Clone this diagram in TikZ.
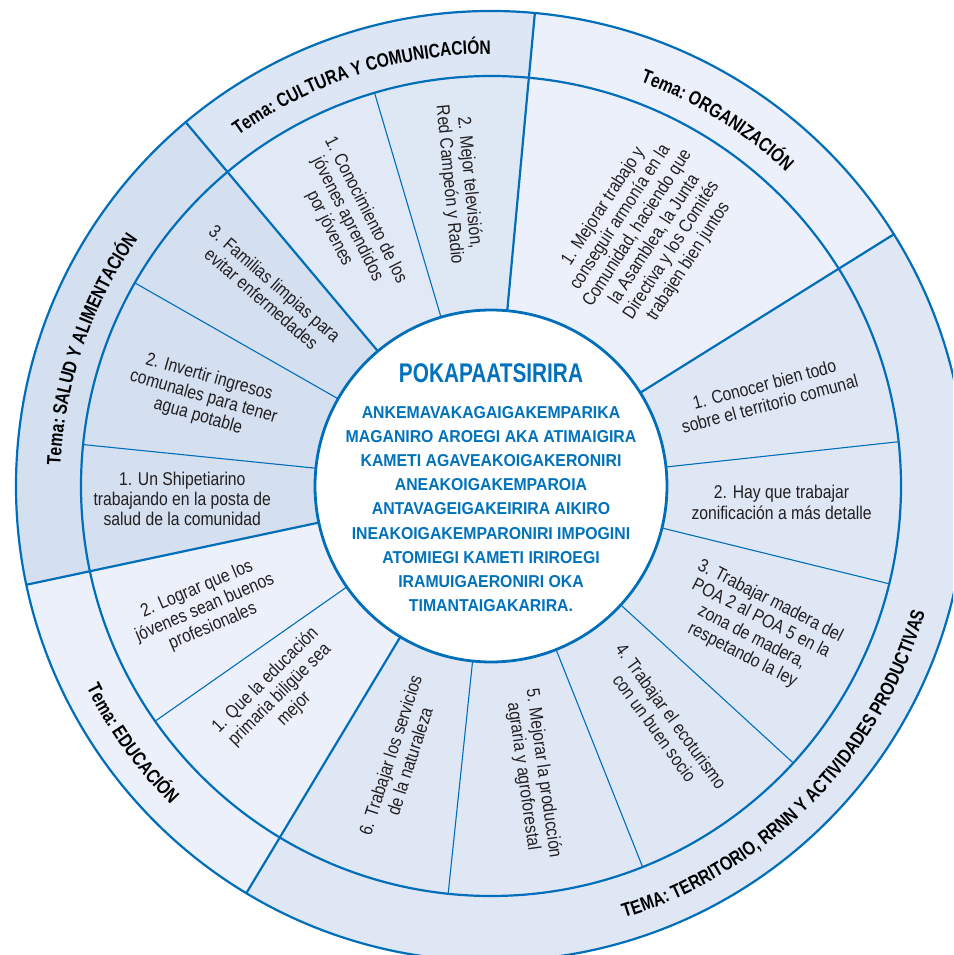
\documentclass[tikz,border=0pt]{standalone}
\usepackage{fontspec}
\setmainfont{Liberation Sans}[FakeStretch=0.92]
\newfontfamily\itemfont{Liberation Sans}[FakeStretch=0.85]
\newfontfamily\titlefont{Liberation Sans}[FakeStretch=0.77]
\newfontfamily\themefont{Liberation Sans}[FakeStretch=0.80]
\usetikzlibrary{decorations.text}
\definecolor{lineblue}{RGB}{0,110,185}
\definecolor{txtblue}{RGB}{0,114,188}
\definecolor{cSalud}{HTML}{D4DFF0}
\definecolor{cCultRing}{HTML}{DDE6F4}
\definecolor{cCultA}{HTML}{E2E9F6}
\definecolor{cCultB}{HTML}{DEE7F4}
\definecolor{cOrg}{HTML}{EBF0FA}
\definecolor{cTerr}{HTML}{DFE7F5}
\definecolor{cEdu}{HTML}{EBF0FA}
\definecolor{ink}{HTML}{231F20}
\newcommand\annsec[5]{%
  \fill[#1] (#2:#4) arc[start angle=#2, end angle=#3, radius=#4] -- (#3:#5) arc[start angle=#3, end angle=#2, radius=#5] -- cycle;}
\tikzset{
  item/.style={font=\itemfont\fontsize{18.5}{20.3}\selectfont, align=center, text=ink, inner sep=0pt},
  themeline/.style={draw=lineblue, line width=2.2pt},
  itemline/.style={draw=lineblue, line width=1.1pt},
  ringline/.style={draw=lineblue, line width=2.2pt},
  themetext/.style={decorate, decoration={text along path, text align=center, text={#1}}}
}
\begin{document}
\begin{tikzpicture}[x=1pt, y=1pt, line join=round]
\useasboundingbox (-491,-469) rectangle (462,486);
\fill[white] (-491,-469) rectangle (462,486);
\clip (-491,-469) rectangle (462,486);
% theme ring
\annsec{cSalud}{130}{192}{410}{475}
\annsec{cCultRing}{84.7}{130}{410}{475}
\annsec{cOrg}{32}{84.7}{410}{475}
\annsec{cTerr}{-121}{32}{410}{475}
\annsec{cEdu}{192}{239}{410}{475}
% item ring
\annsec{cSalud}{130}{192}{176}{410}
\annsec{cCultA}{106.5}{130}{176}{410}
\annsec{cCultB}{84.7}{106.5}{176}{410}
\annsec{cOrg}{32}{84.7}{176}{410}
\annsec{cTerr}{-121}{32}{176}{410}
\annsec{cEdu}{192}{239}{176}{410}
\fill[white] (0,0) circle[radius=176];
% circles
\draw[ringline] (0,0) circle[radius=475];
\draw[ringline] (0,0) circle[radius=410];
\draw[ringline, line width=2.8pt] (0,0) circle[radius=176];
% theme boundaries
\foreach \a in {130,84.7,32,-121,192} \draw[themeline] (\a:176) -- (\a:475);
% item boundaries
\foreach \a in {150.3,174.2,106.5,6.2,-13.8,-42.5,-68.3,-96,215} \draw[itemline] (\a:176) -- (\a:410);
% theme texts
\path[themetext={|\themefont\bfseries\fontsize{19.5}{21}\selectfont|Tema: CULTURA Y COMUNICACIÓN}] (128.9:432) arc[start angle=128.9, end angle=86.9, radius=432];
\path[themetext={|\themefont\bfseries\fontsize{19.5}{21}\selectfont|Tema: ORGANIZACIÓN}] (80:431) arc[start angle=80, end angle=36.5, radius=431];
\path[themetext={|\themefont\bfseries\fontsize{19.5}{21}\selectfont|Tema: SALUD Y ALIMENTACIÓN}] (185:431) arc[start angle=185, end angle=137.3, radius=431];
\path[themetext={|\themefont\bfseries\fontsize{19.5}{21}\selectfont|Tema: EDUCACIÓN}] (195:452) arc[start angle=195, end angle=236.4, radius=452];
\path[themetext={|\themefont\bfseries\fontsize{19.5}{21}\selectfont|TEMA: TERRITORIO, RRNN Y ACTIVIDADES PRODUCTIVAS}] (-82:452) arc[start angle=-82, end angle=-7.1, radius=452];
% item texts
\node[item, rotate=-41] (s3) at (138.8:296) {3. Familias limpias para\\evitar enfermedades};
\node[item, rotate=-16] (s2) at (162.8:301) {2. Invertir ingresos\\comunales para tener\\agua potable};
\node[item] (s1) at (182.4:309) {1. Un Shipetiarino\\trabajando en la posta de\\salud de la comunidad};
\node[item, rotate=-63] (c1) at (118.3:303) {1. Conocimiento de los\\jóvenes aprendidos\\por jóvenes};
\node[item, rotate=-84.5] (c2) at (96:304) {2. Mejor televisión,\\Red Campeón y Radio};
\node[item, rotate=57] (o1) at (58.4:296) {1. Mejorar trabajo y\\conseguir armonía en la\\Comunidad, haciendo que\\la Asamblea, la Junta\\Directiva y los Comités\\trabajen bien juntos};
\node[item, rotate=15] (t1) at (18.4:291) {1. Conocer bien todo\\sobre el territorio comunal};
\node[item] (t2) at (-3.2:291) {2. Hay que trabajar\\zonificación a más detalle};
\node[item, rotate=-27] (t3) at (-28.2:301) {3. Trabajar madera del\\POA 2 al POA 5 en la\\zona de madera,\\respetando la ley};
\node[item, rotate=-54] (t4) at (-53.9:292) {4. Trabajar el ecoturismo\\con un buen socio};
\node[item, rotate=-82] (t5) at (-81.7:292) {5. Mejorar la producción\\agraria y agroforestal};
\node[item, rotate=72] (t6) at (-108.5:287) {6. Trabajar los servicios\\de la naturaleza};
\node[item, rotate=23] (e2) at (203.1:311) {2. Lograr que los\\jóvenes sean buenos\\profesionales};
\node[item, rotate=45] (e1) at (224.7:297) {1. Que la educación\\primaria biligüe sea\\mejor};
% centre
\node[font=\titlefont\bfseries\fontsize{27}{30}\selectfont, text=txtblue, anchor=base, inner sep=0pt] (title) at (0,103.3) {POKAPAATSIRIRA};
\node[font=\bfseries\fontsize{17.2}{24.17}\selectfont, text=txtblue, align=center, anchor=north, inner sep=0pt] (body) at (0,80) {ANKEMAVAKAGAIGAKEMPARIKA\\MAGANIRO AROEGI AKA ATIMAIGIRA\\KAMETI AGAVEAKOIGAKERONIRI\\ANEAKOIGAKEMPAROIA\\ANTAVAGEIGAKEIRIRA AIKIRO\\INEAKOIGAKEMPARONIRI IMPOGINI\\ATOMIEGI KAMETI IRIROEGI\\IRAMUIGAERONIRI OKA\\TIMANTAIGAKARIRA.};
\end{tikzpicture}
\end{document}
